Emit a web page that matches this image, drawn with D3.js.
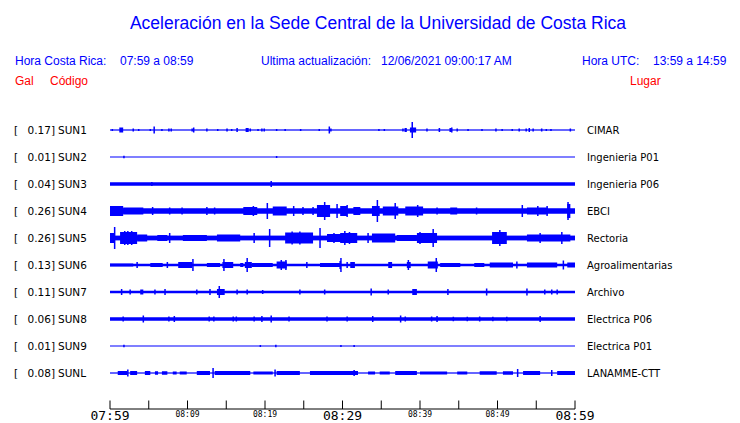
<!DOCTYPE html>
<html><head><meta charset="utf-8">
<script src="https://cdn.jsdelivr.net/npm/d3@7"></script>
<style>body{margin:0;background:#fff}svg{display:block}</style>
</head><body>
<script>
// ---------------- DATA ----------------
const stations = ["SUN1","SUN2","SUN3","SUN4","SUN5","SUN6","SUN7","SUN8","SUN9","SUNL"];
const peakGal  = ["0.17","0.01","0.04","0.26","0.26","0.13","0.11","0.06","0.01","0.08"];
const places   = ["CIMAR","Ingenieria P01","Ingenieria P06","EBCI","Rectoria","Agroalimentarias","Archivo","Electrica P06","Electrica P01","LANAMME-CTT"];
// background half-amplitude (gal) of each trace
const baseAmp  = [0.012, 0.01, 0.035, 0.055, 0.048, 0.025, 0.025, 0.035, 0.01, 0.012];
// bursts: [start minute, end minute, half-amplitude gal]; start==end -> single spike
const sun1 = [[0.3,0.3,0.02],[1.2,1.7,0.05],[3.0,3.0,0.03],[3.7,3.7,0.02],[5.2,5.2,0.02],[5.7,5.7,0.07],[6.7,6.7,0.02],[7.6,7.6,0.03],[7.9,7.9,0.03],[10.6,10.6,0.03],[10.8,10.8,0.05],[12.5,12.5,0.03],[13.9,13.9,0.02],[15.0,15.2,0.03],[15.7,15.7,0.02],[16.4,16.4,0.04],[17.5,17.9,0.04],[18.1,18.1,0.03],[19.1,19.1,0.02],[19.6,19.6,0.03],[19.9,19.9,0.03],[21.5,21.5,0.02],[22.6,22.6,0.02],[24.6,24.6,0.02],[27.0,27.0,0.02],[28.3,28.3,0.07],[28.5,28.5,0.03],[34.7,34.7,0.02],[35.4,35.4,0.02],[37.8,37.8,0.03],[38.0,38.3,0.04],[38.7,39.5,0.05],[39.0,39.0,0.16],[40.9,40.9,0.03],[42.4,42.6,0.04],[43.9,43.9,0.04],[44.1,44.1,0.05],[44.8,44.8,0.03],[46.2,46.2,0.02],[48.0,48.0,0.02],[49.8,49.8,0.03],[50.6,50.6,0.02],[51.9,51.9,0.02],[52.8,52.8,0.03],[53.7,53.7,0.03],[54.1,54.1,0.04],[54.6,54.6,0.03],[55.7,55.7,0.03],[56.3,56.3,0.02],[56.9,56.9,0.02],[59.4,59.4,0.03]];
const sun2 = [[1.8,1.8,0.025],[21.4,21.5,0.02]];
const sun3 = [[5.4,5.4,0.04],[20.8,20.8,0.06]];
const sun4 = [[0,1.7,0.10],[1.7,4.3,0.07],[5.5,5.5,0.08],[7.7,7.7,0.07],[9.3,9.3,0.07],[12.5,12.5,0.08],[13.5,13.5,0.07],[17.2,19.0,0.08],[18.5,18.5,0.10],[20.3,20.3,0.16],[21.0,22.8,0.09],[23.7,23.7,0.10],[24.9,24.9,0.08],[26.2,26.2,0.08],[26.7,28.4,0.12],[27.7,27.7,0.18],[29.3,29.3,0.14],[29.7,30.6,0.10],[30.6,30.6,0.12],[31.4,32.3,0.08],[33.8,34.8,0.10],[34.5,34.5,0.22],[35.2,37.2,0.09],[36.8,36.8,0.16],[38.1,40.4,0.09],[39.7,39.7,0.12],[42.2,42.2,0.07],[43.9,44.8,0.07],[47.3,47.3,0.07],[53.2,53.2,0.12],[53.8,56.5,0.07],[55.2,55.2,0.10],[56.4,56.4,0.10],[59.0,59.4,0.14],[59.1,59.1,0.18]];
const sun5 = [[0,0.6,0.10],[0.6,0.6,0.22],[1.3,3.5,0.12],[1.9,1.9,0.14],[2.3,2.3,0.14],[2.8,2.8,0.14],[3.5,4.8,0.07],[6.1,7.4,0.06],[7.7,7.7,0.10],[9.4,12.5,0.06],[13.8,16.8,0.07],[18.6,18.6,0.10],[20.6,20.6,0.18],[22.6,26.2,0.11],[23.5,23.5,0.13],[24.5,24.5,0.13],[27.1,27.1,0.20],[28.0,30.8,0.08],[28.9,28.9,0.10],[29.9,29.9,0.10],[30.3,30.3,0.14],[29.7,31.9,0.10],[30.9,30.9,0.12],[33.3,33.3,0.10],[33.8,36.8,0.09],[37.0,39.6,0.06],[39.6,42.2,0.10],[40.0,40.0,0.12],[41.7,41.7,0.18],[49.3,51.2,0.12],[50.3,50.3,0.16],[53.8,59.4,0.07],[55.5,55.5,0.10],[58.3,58.3,0.12]];
const sun6 = [[0,3.0,0.03],[3.5,3.5,0.06],[5.2,6.8,0.04],[7.4,7.4,0.06],[8.8,10.6,0.06],[10.7,10.7,0.12],[12.5,14.2,0.04],[14.5,15.9,0.06],[14.7,14.7,0.12],[16.8,17.2,0.04],[17.4,18.3,0.06],[17.7,17.7,0.14],[18.3,21.0,0.04],[21.5,22.8,0.07],[22.1,22.1,0.10],[22.7,22.7,0.10],[25.4,25.4,0.06],[27.1,29.7,0.04],[29.8,29.8,0.14],[29.7,29.7,0.08],[30.6,30.6,0.06],[31.0,31.6,0.06],[35.9,36.4,0.06],[38.3,38.8,0.06],[38.5,38.5,0.10],[41.0,42.3,0.07],[42.1,42.1,0.14],[42.6,45.2,0.04],[47.0,48.3,0.04],[49.0,52.0,0.05],[52.5,52.5,0.07],[53.8,57.7,0.05],[58.5,58.5,0.09],[59.0,60,0.05]];
const sun7 = [[1.5,1.5,0.06],[2.6,2.6,0.05],[3.9,4.3,0.05],[5.8,5.8,0.05],[7.1,7.1,0.06],[11.2,11.2,0.05],[12.9,12.9,0.06],[13.8,14.8,0.06],[14.1,14.1,0.12],[16.4,16.4,0.05],[17.7,17.7,0.05],[19.7,19.7,0.04],[24.5,24.5,0.05],[27.7,27.7,0.05],[33.7,33.7,0.07],[35.9,35.9,0.05],[39.0,39.6,0.06],[43.6,43.6,0.06],[48.6,48.6,0.07],[53.8,53.8,0.07],[56.1,56.1,0.05],[57.0,57.0,0.05],[57.7,57.7,0.05]];
const sun8 = [[1.7,1.7,0.05],[4.3,4.3,0.07],[7.6,7.6,0.05],[8.3,8.3,0.06],[12.8,12.8,0.05],[13.4,13.4,0.05],[15.9,15.9,0.05],[16.3,16.3,0.05],[18.6,18.6,0.05],[19.6,19.6,0.06],[20.8,20.8,0.07],[23.1,23.1,0.05],[28.0,28.0,0.05],[30.6,30.6,0.05],[33.9,33.9,0.06],[37.5,37.5,0.07],[38.1,38.1,0.05],[41.5,41.5,0.05],[42.2,42.2,0.06],[44.3,44.3,0.045],[46.1,46.1,0.045],[47.7,47.7,0.05],[49.4,49.4,0.045],[51.2,51.2,0.045],[55.5,55.5,0.06]];
const sun9 = [[1.8,1.8,0.025],[19.4,19.4,0.02],[21.4,21.4,0.025],[29.8,29.8,0.02],[31.5,31.5,0.02]];
const sunl = [[1.0,2.2,0.04],[2.3,2.3,0.07],[2.6,3.5,0.04],[4.5,5.2,0.04],[5.8,6.2,0.035],[6.7,7.4,0.035],[8.1,8.6,0.03],[9.0,9.9,0.03],[11.2,12.9,0.04],[13.3,13.3,0.10],[13.5,18.1,0.04],[18.5,21.0,0.03],[21.3,21.3,0.07],[21.5,24.5,0.04],[25.8,30.7,0.04],[29.7,32.0,0.04],[31.5,31.5,0.06],[33.3,34.2,0.03],[34.8,36.1,0.03],[36.8,39.6,0.04],[40.0,43.5,0.03],[44.8,46.1,0.03],[47.7,49.9,0.035],[50.7,52.0,0.035],[52.6,52.6,0.08],[53.3,55.5,0.04],[57.0,57.0,0.06],[57.7,60,0.04]];
const bursts = [sun1, sun2, sun3, sun4, sun5, sun6, sun7, sun8, sun9, sunl];
const tickMinutes = [0,5,10,15,20,25,30,35,40,45,50,55,60];
const tickLabels  = ["07:59","","08:09","","08:19","","08:29","","08:39","","08:49","","08:59"];
const bigLabels   = ["07:59","08:29","08:59"];

// ---------------- DRAW ----------------
const W = 740, H = 423, BLUE = "#0000ff", RED = "#ff0000";
const svg = d3.select("body").append("svg").attr("width", W).attr("height", H);

const x = d3.scaleLinear().domain([0, 60]).range([110, 575]);
const row = d3.scalePoint().domain(stations).range([130, 373]);
const amp = d3.scaleLinear().domain([0, 0.26]).range([0, 13]);

const sans = "'Liberation Sans', Arial, sans-serif";
svg.append("text").attr("x", 378).attr("y", 29).attr("text-anchor", "middle")
  .attr("fill", BLUE).style("font-family", sans).style("font-size", "17.5px")
  .text("Aceleración en la Sede Central de la Universidad de Costa Rica");

const hdr = [["Hora Costa Rica:",15],["07:59 a 08:59",120],["Ultima actualización:",261],["12/06/2021 09:00:17 AM",381],["Hora UTC:",582],["13:59 a 14:59",653]];
svg.selectAll("text.hdr").data(hdr).join("text").attr("class","hdr")
  .attr("x", d => d[1]).attr("y", 65).attr("fill", BLUE)
  .style("font-family", sans).style("font-size", "12px").text(d => d[0]);
const red = [["Gal",15],["Código",50],["Lugar",630]];
svg.selectAll("text.red").data(red).join("text").attr("class","red")
  .attr("x", d => d[1]).attr("y", 85).attr("fill", RED)
  .style("font-family", sans).style("font-size", "12px").text(d => d[0]);

const dv = "'DejaVu Sans', sans-serif";
const g = svg.append("g");
stations.forEach((s, i) => {
  const y0 = row(s);
  g.append("text").attr("x", 14).attr("y", y0 + 4).style("font-family", dv).style("font-size", "10.5px").text("[");
  g.append("text").attr("x", 55).attr("y", y0 + 4).attr("text-anchor", "end").style("font-family", dv).style("font-size", "10.5px").text(peakGal[i] + "]");
  g.append("text").attr("x", 58).attr("y", y0 + 4).style("font-family", dv).style("font-size", "10.5px").text(s);
  g.append("text").attr("x", 587).attr("y", y0 + 4).style("font-family", dv).style("font-size", "10px").text(places[i]);
  const hb = Math.max(amp(baseAmp[i]), 0.5);
  g.append("rect").attr("x", x(0)).attr("width", x(60) - x(0))
    .attr("y", y0 - hb).attr("height", 2 * hb).attr("fill", BLUE);
  g.selectAll(null).data(bursts[i]).join("rect")
    .attr("x", d => d[0] === d[1] ? x(d[0]) - 0.75 : x(d[0]))
    .attr("width", d => Math.max(1.5, x(d[1]) - x(d[0])))
    .attr("y", d => y0 - amp(d[2])).attr("height", d => 2 * amp(d[2]))
    .attr("fill", BLUE);
});

// axis
const axY = 409;
const axis = svg.append("g");
axis.append("line").attr("x1", x(0)).attr("x2", x(60)).attr("y1", axY).attr("y2", axY).attr("stroke", "#000");
axis.selectAll("line.t").data(tickMinutes).join("line").attr("class","t")
  .attr("x1", d => x(d)).attr("x2", d => x(d)).attr("y1", axY - 8.5).attr("y2", axY).attr("stroke", "#000");
axis.selectAll("text.t").data(tickMinutes).join("text").attr("class","t")
  .attr("x", d => x(d)).attr("text-anchor", "middle")
  .attr("y", (d, i) => bigLabels.includes(tickLabels[i]) ? 420 : 417)
  .style("font-family", "'DejaVu Sans Mono', monospace")
  .style("font-size", (d, i) => bigLabels.includes(tickLabels[i]) ? "13px" : "8px")
  .text((d, i) => tickLabels[i]);
</script>
</body></html>
